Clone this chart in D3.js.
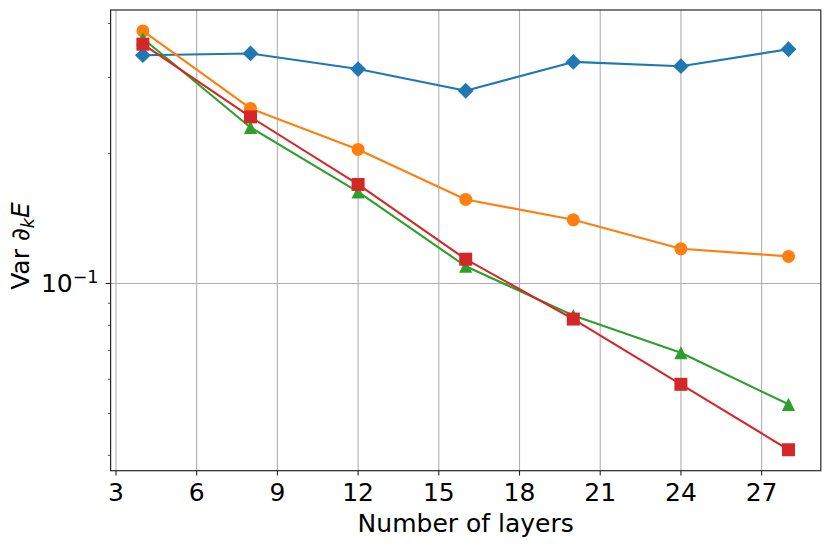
<!DOCTYPE html>
<html>
<head>
<meta charset="utf-8">
<script src="https://cdn.jsdelivr.net/npm/d3@7"></script>
<style>
  body { margin: 0; background: #fff; }
  text { font-family: "DejaVu Sans", sans-serif; }
</style>
</head>
<body>
<script>
const panel_width = 831;
const panel_height = 546;

// data
const layers = [4, 8, 12, 16, 20, 24, 28];
const seriesBlue   = [0.3377, 0.3408, 0.3136, 0.2794, 0.3258, 0.3184, 0.3486];
const seriesOrange = [0.3843, 0.2542, 0.2043, 0.1565, 0.1404, 0.1203, 0.1155];
const seriesGreen  = [0.3690, 0.2297, 0.1630, 0.1096, 0.0843, 0.0691, 0.0525];
const seriesRed    = [0.3581, 0.2430, 0.1695, 0.1138, 0.0827, 0.0584, 0.0412];
const xTicks = [3, 6, 9, 12, 15, 18, 21, 24, 27];
const yMajorTicks = [0.1];
const yMinorTicks = [0.04, 0.05, 0.06, 0.07, 0.08, 0.09, 0.2, 0.3, 0.4];

const series = [
    { values: seriesBlue,   color: "#1f77b4", marker: "diamond" },
    { values: seriesOrange, color: "#ff7f0e", marker: "circle" },
    { values: seriesGreen,  color: "#2ca02c", marker: "triangle" },
    { values: seriesRed,    color: "#d62728", marker: "square" }
];

const plotLeft = 110.6, plotRight = 820.8, plotTop = 10, plotBottom = 470.7;
const fontSize = 25;

// matplotlib style 5% margins (log space for y)
const xMin = d3.min(layers), xMax = d3.max(layers);
const xPad = (xMax - xMin) * 0.05;
const x = d3.scaleLinear().domain([xMin - xPad, xMax + xPad]).range([plotLeft, plotRight]);

const allVals = series.flatMap(s => s.values);
const lMin = Math.log10(d3.min(allVals)), lMax = Math.log10(d3.max(allVals));
const lPad = (lMax - lMin) * 0.05;
const y = d3.scaleLog().domain([10 ** (lMin - lPad), 10 ** (lMax + lPad)]).range([plotBottom, plotTop]);

const svg = d3.select("body").append("svg")
    .attr("width", panel_width)
    .attr("height", panel_height);

// grid
svg.append("g").selectAll("line").data(xTicks).join("line")
    .attr("x1", d => x(d)).attr("x2", d => x(d))
    .attr("y1", plotTop).attr("y2", plotBottom)
    .attr("stroke", "#b0b0b0").attr("stroke-width", 1.1);
svg.append("g").selectAll("line").data(yMajorTicks).join("line")
    .attr("x1", plotLeft).attr("x2", plotRight)
    .attr("y1", d => y(d)).attr("y2", d => y(d))
    .attr("stroke", "#b0b0b0").attr("stroke-width", 1.1);

// lines + markers
const line = d3.line().x((d, i) => x(layers[i])).y(d => y(d));
const markerPath = {
    diamond: () => { const r = 7.9; return `M0,${-r}L${r},0L0,${r}L${-r},0Z`; },
    circle: d3.symbol().type(d3.symbolCircle).size(Math.PI * 6.5 * 6.5),
    triangle: () => { const h = 6.6; return `M0,${-h}L${h},${h}L${-h},${h}Z`; },
    square: d3.symbol().type(d3.symbolSquare).size(13 * 13)
};

series.forEach(s => {
    const g = svg.append("g");
    g.append("path")
        .attr("d", line(s.values))
        .attr("fill", "none")
        .attr("stroke", s.color)
        .attr("stroke-width", 2.1)
        .attr("stroke-linejoin", "round");
    g.selectAll(".m").data(s.values).join("path")
        .attr("transform", (d, i) => `translate(${x(layers[i])},${y(d)})`)
        .attr("d", () => markerPath[s.marker]())
        .attr("fill", s.color);
});

// spines
svg.append("rect")
    .attr("x", plotLeft).attr("y", plotTop)
    .attr("width", plotRight - plotLeft).attr("height", plotBottom - plotTop)
    .attr("fill", "none").attr("stroke", "#262626").attr("stroke-width", 1.2);

// x ticks
const xt = svg.append("g");
xt.selectAll("line").data(xTicks).join("line")
    .attr("x1", d => x(d)).attr("x2", d => x(d))
    .attr("y1", plotBottom).attr("y2", plotBottom + 4.9)
    .attr("stroke", "#262626").attr("stroke-width", 1.1);
xt.selectAll("text").data(xTicks).join("text")
    .attr("x", d => x(d)).attr("y", 501)
    .attr("text-anchor", "middle")
    .attr("font-size", fontSize)
    .text(d => d);

// y ticks
const yt = svg.append("g");
yt.selectAll(".major").data(yMajorTicks).join("line")
    .attr("x1", plotLeft - 4.9).attr("x2", plotLeft)
    .attr("y1", d => y(d)).attr("y2", d => y(d))
    .attr("stroke", "#262626").attr("stroke-width", 1.1);
yt.selectAll(".minor").data(yMinorTicks).join("line")
    .attr("x1", plotLeft - 2.8).attr("x2", plotLeft)
    .attr("y1", d => y(d)).attr("y2", d => y(d))
    .attr("stroke", "#262626").attr("stroke-width", 0.8);
yMajorTicks.forEach(v => {
    const exp = Math.round(Math.log10(v));
    const t = yt.append("text")
        .attr("x", 98.5).attr("y", y(v) + 9)
        .attr("text-anchor", "end")
        .attr("font-size", fontSize);
    t.append("tspan").text("10");
    t.append("tspan").attr("dy", -9.5).attr("font-size", fontSize * 0.7)
        .text(exp < 0 ? "\u2212" + (-exp) : String(exp));
});

// axis labels
svg.append("text")
    .attr("x", (plotLeft + plotRight) / 2).attr("y", 531.7)
    .attr("text-anchor", "middle")
    .attr("font-size", fontSize)
    .text("Number of layers");

const yl = svg.append("text")
    .attr("transform", "translate(29,246) rotate(-90)")
    .attr("text-anchor", "middle")
    .attr("font-size", fontSize);
yl.append("tspan").text("Var ");
yl.append("tspan").text("\u2202");
yl.append("tspan").attr("dy", 4.8).attr("font-size", fontSize * 0.7)
    .attr("font-style", "italic").text("k");
yl.append("tspan").attr("dy", -4.8).attr("font-style", "italic").text("E");
</script>
</body>
</html>
